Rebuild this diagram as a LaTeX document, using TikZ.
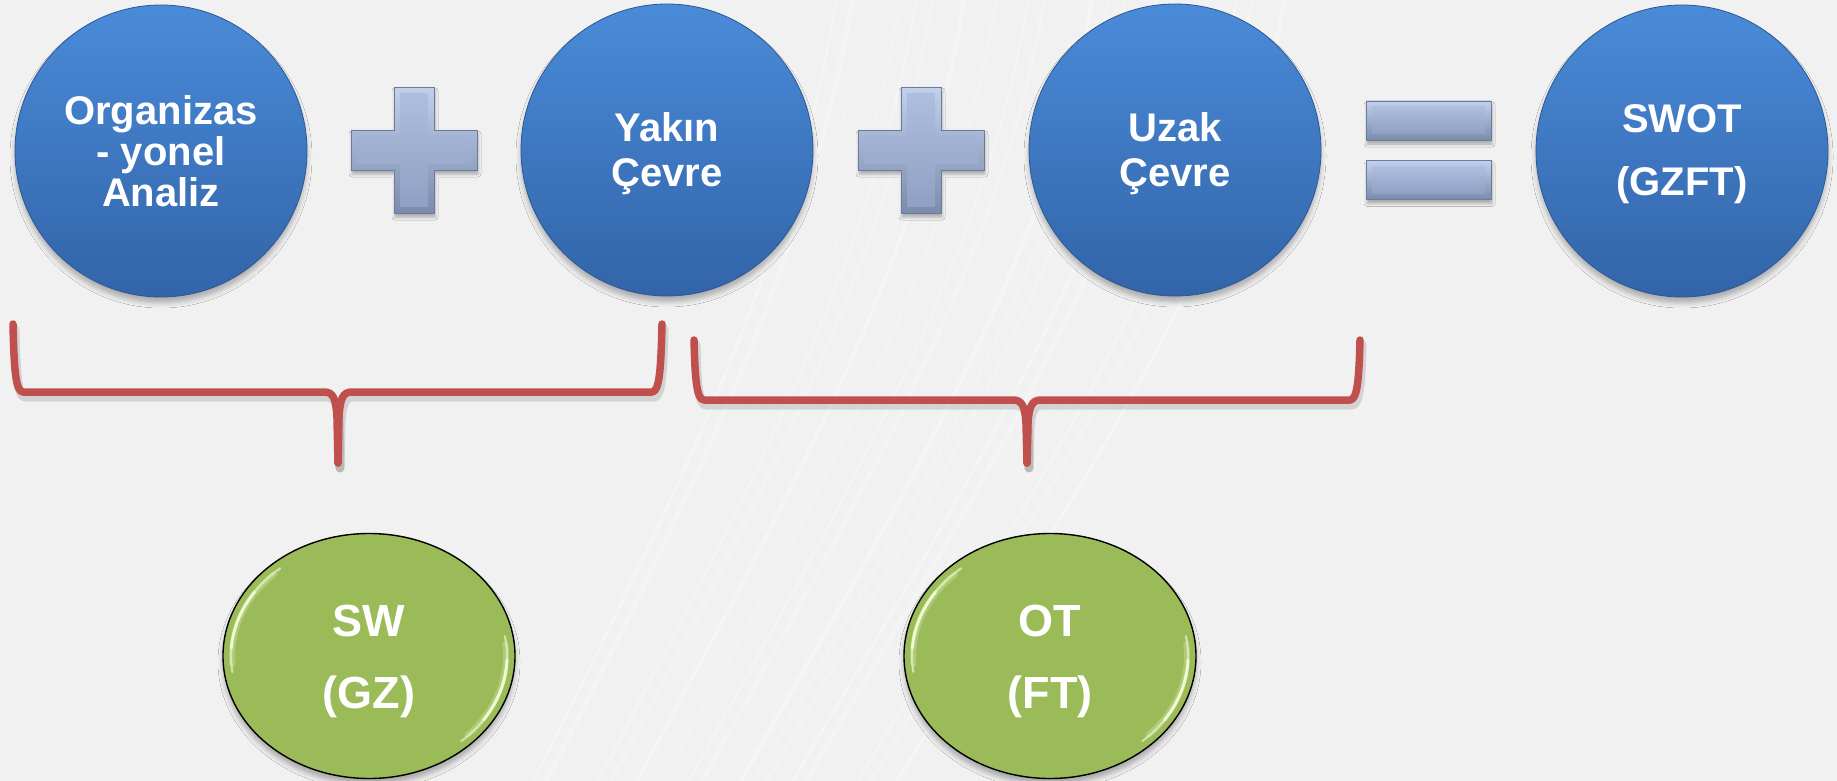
\documentclass[tikz,border=0pt]{standalone}
\usepackage{fontspec}
\setmainfont{Liberation Sans}
\usetikzlibrary{shapes.geometric,shadows.blur}

\definecolor{bgcol}{HTML}{F1F1F1}
\definecolor{bluetop}{HTML}{4A8BD9}
\definecolor{bluebot}{HTML}{3264A8}
\definecolor{blueedge}{HTML}{2C5894}
\definecolor{greenfill}{HTML}{9BBB59}
\definecolor{greenhi}{HTML}{F2FBD6}
\definecolor{bracered}{HTML}{C0504D}
\definecolor{optop}{HTML}{C2D0EC}
\definecolor{opbot}{HTML}{7A8BAD}
\definecolor{opfacetop}{HTML}{ADBEDF}
\definecolor{opfacebot}{HTML}{8FA0C2}
\definecolor{opedge}{HTML}{6C7C9C}

\tikzset{
  bluecirc/.style={circle, minimum size=292pt, inner sep=0pt,
    top color=bluetop, bottom color=bluebot, draw=blueedge, line width=0.8pt,
    blur shadow={shadow xshift=0pt, shadow yshift=-6pt, shadow blur radius=5pt, shadow opacity=28}},
  bluetext/.style={text=white, align=center, inner sep=0pt, font=\bfseries\fontsize{40}{45}\selectfont},
  greenoval/.style={ellipse, minimum width=292pt, minimum height=245pt, inner sep=0pt,
    fill=greenfill, draw=black, line width=1.4pt,
    blur shadow={shadow xshift=0pt, shadow yshift=-6pt, shadow blur radius=5pt, shadow opacity=30}},
  greentext/.style={text=white, align=center, inner sep=0pt, font=\bfseries\fontsize{45}{50}\selectfont},
  bracestroke/.style={draw=bracered, line width=7.5pt, line cap=round, line join=round},
  braceshadow/.style={draw=black, opacity=0.12, line width=9pt, line cap=round, line join=round},
  glint/.style={draw=greenhi, line cap=round},
  streak/.style={draw=white, line cap=round},
  pics/plussign/.style={code={
    \path[blur shadow={shadow xshift=1pt, shadow yshift=-4pt, shadow blur radius=3pt, shadow opacity=30},
          top color=optop, bottom color=opbot, draw=opedge, line width=0.8pt]
      (-20,-63) -- (20,-63) -- (20,-20) -- (63,-20) -- (63,20) -- (20,20) -- (20,63)
      -- (-20,63) -- (-20,20) -- (-63,20) -- (-63,-20) -- (-20,-20) -- cycle;
    \path[top color=opfacetop, bottom color=opfacebot]
      (-14,-57) -- (14,-57) -- (14,-14) -- (57,-14) -- (57,14) -- (14,14) -- (14,57)
      -- (-14,57) -- (-14,14) -- (-57,14) -- (-57,-14) -- (-14,-14) -- cycle;
  }},
  pics/eqbar/.style={code={
    \path[blur shadow={shadow xshift=1pt, shadow yshift=-4pt, shadow blur radius=3pt, shadow opacity=30},
          top color=optop, bottom color=opbot, draw=opedge, line width=0.8pt]
      (-62.5,-19.5) rectangle (62.5,19.5);
    \path[top color=opfacetop, bottom color=opfacebot] (-56.5,-13.5) rectangle (56.5,13.5);
  }},
}

\begin{document}
\begin{tikzpicture}[x=1pt,y=-1pt]
  \useasboundingbox (0,0) rectangle (1837,781);
  \fill[bgcol] (0,0) rectangle (1837,781);

  % faint light streaks in the backdrop
  \foreach \i in {0,...,30} {
    \pgfmathsetmacro{\lw}{1+mod(\i*7,5)*0.9}
    \pgfmathsetmacro{\op}{0.12+mod(\i*3,4)*0.06}
    \draw[streak, line width=\lw pt, opacity=\op]
      ({820+\i*16},0) .. controls ({780+\i*16},260) and ({650+\i*14},520) .. ({520+\i*13},781);
  }

  % top row: analysis circles and operators
  \node[bluecirc] (org) at (161,151) {};
  \node[bluecirc] (yakin) at (667,150) {};
  \node[bluecirc] (uzak) at (1175,150) {};
  \node[bluecirc] (swot) at (1682,151) {};

  \node[bluetext, font=\bfseries\fontsize{40}{41}\selectfont] at (org.center) {Organizas\\- yonel\\Analiz};
  \node[bluetext] at ([yshift=-4pt]yakin.center) {Yakın\\Çevre};
  \node[bluetext] at ([yshift=-4pt]uzak.center) {Uzak\\Çevre};
  \node[bluetext] at ([yshift=-3pt]swot.center) {SWOT\\[18pt](GZFT)};

  \pic at (414,150) {plussign};
  \pic at (921,150) {plussign};
  \pic at (1428.5,120.5) {eqbar};
  \pic at (1428.5,180) {eqbar};

  % braces grouping the circles
  \foreach \dx/\dy/\sty in {2/5/braceshadow, 0/0/bracestroke} {
    \begin{scope}[shift={(\dx,\dy)}]
      \draw[\sty] (13,324) .. controls (14,368) and (15.5,392) .. (23,392) -- (324,392)
        .. controls (333,392) and (336,398) .. (337,418) -- (338,463);
      \draw[\sty] (662,324) .. controls (661,368) and (659.5,392) .. (652,392) -- (352,392)
        .. controls (343,392) and (340,398) .. (339,418) -- (338,463);
      \draw[\sty] (694,340) .. controls (695,378) and (696.5,400) .. (704,400) -- (1013,400)
        .. controls (1022,400) and (1025,406) .. (1026,424) -- (1027,463);
      \draw[\sty] (1360,340) .. controls (1359,378) and (1357.5,400) .. (1350,400) -- (1041,400)
        .. controls (1032,400) and (1029,406) .. (1028,424) -- (1027,463);
    \end{scope}
  }

  % bottom row: results
  \node[greenoval] (sw) at (369,656) {};
  \node[greenoval] (ot) at (1050,656) {};

  \foreach \n in {sw, ot} {
    \draw[glint, line width=6pt, opacity=0.25] (\n.center) ++(176:137 and 113.5)
      arc[start angle=176, end angle=226, x radius=137, y radius=113.5];
    \draw[glint, line width=2.2pt, opacity=0.6] (\n.center) ++(172:138 and 114.5)
      arc[start angle=172, end angle=230, x radius=138, y radius=114.5];
    \draw[glint, line width=3pt, opacity=0.9] (\n.center) ++(184:138 and 114.5)
      arc[start angle=184, end angle=214, x radius=138, y radius=114.5];
    \draw[glint, line width=6pt, opacity=0.25] (\n.center) ++(-6:137 and 113.5)
      arc[start angle=-6, end angle=44, x radius=137, y radius=113.5];
    \draw[glint, line width=2.2pt, opacity=0.6] (\n.center) ++(-10:138 and 114.5)
      arc[start angle=-10, end angle=48, x radius=138, y radius=114.5];
    \draw[glint, line width=3pt, opacity=0.9] (\n.center) ++(2:138 and 114.5)
      arc[start angle=2, end angle=34, x radius=138, y radius=114.5];
  }

  \node[greentext] at ([yshift=-5pt]sw.center) {SW\\[22pt](GZ)};
  \node[greentext] at ([yshift=-5pt]ot.center) {OT\\[22pt](FT)};
\end{tikzpicture}
\end{document}
